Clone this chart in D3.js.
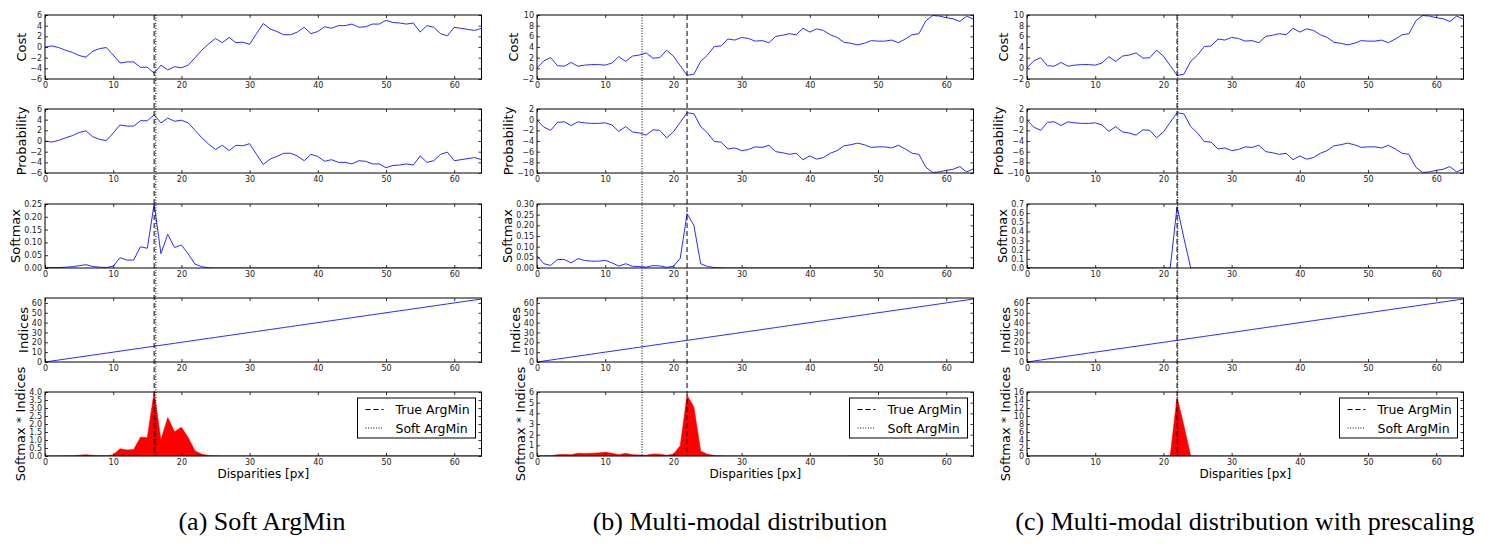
<!DOCTYPE html>
<html><head><meta charset="utf-8">
<script src="https://cdn.jsdelivr.net/npm/d3@7"></script>
<style>body{margin:0;background:#fff}</style>
</head><body><svg id="c" width="1487" height="545"></svg>
<script>
// ---------------- DATA ----------------
const disparities = [0,1,2,3,4,5,6,7,8,9,10,11,12,13,14,15,16,17,18,19,20,21,22,23,24,25,26,27,28,29,30,31,32,33,34,35,36,37,38,39,40,41,42,43,44,45,46,47,48,49,50,51,52,53,54,55,56,57,58,59,60,61,62,63,64];
const indices = [0,1,2,3,4,5,6,7,8,9,10,11,12,13,14,15,16,17,18,19,20,21,22,23,24,25,26,27,28,29,30,31,32,33,34,35,36,37,38,39,40,41,42,43,44,45,46,47,48,49,50,51,52,53,54,55,56,57,58,59,60,61,62,63,64];

const costA = [0.0,0.2,-0.1,-0.6,-1.0,-1.6,-1.9,-0.8,-0.3,-0.1,-1.5,-3.0,-2.8,-2.8,-3.8,-3.8,-4.9,-3.4,-4.3,-3.7,-3.9,-3.4,-2.0,-0.6,0.6,1.6,0.8,1.8,0.8,0.9,0.5,2.5,4.4,3.4,2.9,2.3,2.3,2.8,3.7,2.5,2.9,3.8,3.5,4.0,4.0,4.3,3.7,3.8,4.3,4.3,5.0,4.6,4.5,4.3,4.5,2.8,4.0,3.7,2.5,2.1,3.7,3.5,3.3,3.1,3.5];
const probA = [0.0,-0.2,0.1,0.6,1.0,1.6,1.9,0.8,0.3,0.1,1.5,3.0,2.8,2.8,3.8,3.8,4.9,3.4,4.3,3.7,3.9,3.4,2.0,0.6,-0.6,-1.6,-0.8,-1.8,-0.8,-0.9,-0.5,-2.5,-4.4,-3.4,-2.9,-2.3,-2.3,-2.8,-3.7,-2.5,-2.9,-3.8,-3.5,-4.0,-4.0,-4.3,-3.7,-3.8,-4.3,-4.3,-5.0,-4.6,-4.5,-4.3,-4.5,-2.8,-4.0,-3.7,-2.5,-2.1,-3.7,-3.5,-3.3,-3.1,-3.5];
const softA = [0.002,0.002,0.002,0.003,0.005,0.009,0.013,0.006,0.003,0.002,0.007,0.04,0.031,0.031,0.083,0.077,0.25,0.056,0.132,0.08,0.09,0.055,0.015,0.005,0.001,0,0,0,0,0,0,0,0,0,0,0,0,0,0,0,0,0,0,0,0,0,0,0,0,0,0,0,0,0,0,0,0,0,0,0,0,0,0,0,0];
const siA = [0,0.002,0.004,0.01,0.02,0.045,0.08,0.04,0.02,0.02,0.07,0.45,0.38,0.4,1.17,1.15,4.0,1.0,2.4,1.52,1.8,1.15,0.32,0.11,0.03,0.01,0,0,0,0,0,0,0,0,0,0,0,0,0,0,0,0,0,0,0,0,0,0,0,0,0,0,0,0,0,0,0,0,0,0,0,0,0,0,0];

const costB = [0.1,1.4,2.0,0.5,0.4,1.1,0.4,0.6,0.7,0.7,0.6,1.0,2.2,1.3,2.3,2.5,2.9,1.9,2.0,3.4,2.3,0.5,-1.3,-1.1,1.3,2.5,4.1,4.2,5.5,5.3,5.8,5.6,5.1,5.2,4.8,6.0,6.2,6.5,6.3,7.5,6.8,7.4,7.1,6.3,5.8,4.9,4.7,4.4,4.7,5.2,5.1,5.1,5.3,4.8,5.5,6.3,6.5,8.9,9.9,9.8,9.5,9.3,8.8,9.8,9.2];
const probB = [-0.1,-1.4,-2.0,-0.5,-0.4,-1.1,-0.4,-0.6,-0.7,-0.7,-0.6,-1.0,-2.2,-1.3,-2.3,-2.5,-2.9,-1.9,-2.0,-3.4,-2.3,-0.5,1.3,1.1,-1.3,-2.5,-4.1,-4.2,-5.5,-5.3,-5.8,-5.6,-5.1,-5.2,-4.8,-6.0,-6.2,-6.5,-6.3,-7.5,-6.8,-7.4,-7.1,-6.3,-5.8,-4.9,-4.7,-4.4,-4.7,-5.2,-5.1,-5.1,-5.3,-4.8,-5.5,-6.3,-6.5,-8.9,-9.9,-9.8,-9.5,-9.3,-8.8,-9.8,-9.2];
const softB = [0.057,0.02,0.012,0.04,0.04,0.024,0.044,0.035,0.032,0.032,0.036,0.024,0.009,0.02,0.008,0.007,0.004,0.011,0.01,0.003,0.008,0.045,0.255,0.2,0.02,0.007,0.002,0.001,0,0,0,0,0,0,0,0,0,0,0,0,0,0,0,0,0,0,0,0,0,0,0,0,0,0,0,0,0,0,0,0,0,0,0,0,0];
const siB = [0,0.03,0.03,0.12,0.15,0.12,0.25,0.24,0.26,0.29,0.35,0.26,0.12,0.25,0.12,0.1,0.07,0.18,0.17,0.06,0.16,0.95,5.7,4.6,0.45,0.17,0.05,0.02,0,0,0,0,0,0,0,0,0,0,0,0,0,0,0,0,0,0,0.02,0.02,0.02,0.02,0.02,0,0,0,0,0,0,0,0,0,0,0,0,0,0];

const costC = costB;
const probC = probB;
const softC = [0.005,0.001,0,0,0,0,0,0,0,0,0,0,0,0,0,0,0,0,0,0,0,0.002,0.67,0.33,0,0,0,0,0,0,0,0,0,0,0,0,0,0,0,0,0,0,0,0,0,0,0,0,0,0,0,0,0,0,0,0,0,0,0,0,0,0,0,0,0];
const siC = [0,0,0,0,0,0,0,0,0,0,0,0,0,0,0,0,0,0,0,0,0,0.04,14.7,7.6,0,0,0,0,0,0,0,0,0,0,0,0,0,0,0,0,0,0,0,0,0,0,0,0,0,0,0,0,0,0,0,0,0,0,0,0,0,0,0,0,0];

const trueArgMin = [16, 22, 22];
const softArgMin = [16.25, 15.4, 22.1];

const xTicks = [0,10,20,30,40,50,60];
const ticksCostA = [-6,-4,-2,0,2,4,6];
const ticksCostB = [-2,0,2,4,6,8,10];
const ticksProbB = [-10,-8,-6,-4,-2,0,2];
const ticksSoftA = [0,0.05,0.10,0.15,0.20,0.25];
const ticksSoftB = [0,0.05,0.10,0.15,0.20,0.25,0.30];
const ticksSoftC = [0,0.1,0.2,0.3,0.4,0.5,0.6,0.7];
const ticksIdx = [0,10,20,30,40,50,60];
const ticksSiA = [0,0.5,1.0,1.5,2.0,2.5,3.0,3.5,4.0];
const ticksSiB = [0,1,2,3,4,5,6];
const ticksSiC = [0,2,4,6,8,10,12,14,16];

const rowLabels = ["Cost","Probability","Softmax","Indices","Softmax * Indices"];
const legendLabels = ["True ArgMin","Soft ArgMin"];
const xLabel = "Disparities [px]";
const captions = ["(a) Soft ArgMin","(b) Multi-modal distribution","(c) Multi-modal distribution with prescaling"];

// ---------------- BUILD ----------------
const panels = [
  {rows:[
    {v:costA, dom:[-6,6], t:ticksCostA, f:d3.format("d")},
    {v:probA, dom:[-6,6], t:ticksCostA, f:d3.format("d")},
    {v:softA, dom:[0,0.25], t:ticksSoftA, f:d3.format(".2f")},
    {v:indices, dom:[0,65], t:ticksIdx, f:d3.format("d")},
    {v:siA, dom:[0,4.0], t:ticksSiA, f:d3.format(".1f"), area:true}
  ]},
  {rows:[
    {v:costB, dom:[-2,10], t:ticksCostB, f:d3.format("d")},
    {v:probB, dom:[-10,2], t:ticksProbB, f:d3.format("d")},
    {v:softB, dom:[0,0.30], t:ticksSoftB, f:d3.format(".2f")},
    {v:indices, dom:[0,65], t:ticksIdx, f:d3.format("d")},
    {v:siB, dom:[0,6], t:ticksSiB, f:d3.format("d"), area:true}
  ]},
  {rows:[
    {v:costC, dom:[-2,10], t:ticksCostB, f:d3.format("d")},
    {v:probC, dom:[-10,2], t:ticksProbB, f:d3.format("d")},
    {v:softC, dom:[0,0.7], t:ticksSoftC, f:d3.format(".1f")},
    {v:indices, dom:[0,65], t:ticksIdx, f:d3.format("d")},
    {v:siC, dom:[0,16], t:ticksSiC, f:d3.format("d"), area:true}
  ]}
];

const svg = d3.select("#c");
svg.append("rect").attr("width",1487).attr("height",545).attr("fill","#fff");
const defs = svg.append("defs");

const rowTops = [15,109,204,298,392], rowH = 64;
const panelLefts = [45,537,1027], panelW = 436.5;
const captionX = [262, 740, 1245];
const tickFont = "DejaVu Sans, sans-serif";

panels.forEach((p,pi)=>{
  const L = panelLefts[pi], R = L + panelW;
  const x = d3.scaleLinear().domain([0,64]).range([L,R]);
  p.rows.forEach((r,ri)=>{
    const top = rowTops[ri], bot = top + rowH;
    const y = d3.scaleLinear().domain(r.dom).range([bot, top]);
    const cid = `clip${pi}_${ri}`;
    defs.append("clipPath").attr("id",cid).append("rect").attr("x",L).attr("y",top).attr("width",R-L).attr("height",rowH);
    const g = svg.append("g");
    const pg = g.append("g").attr("clip-path",`url(#${cid})`);
    if (r.area) {
      pg.append("path").datum(r.v)
        .attr("d", d3.area().x((d,i)=>x(disparities[i])).y0(y(0)).y1(d=>y(d)))
        .attr("fill","#ff0000").attr("stroke","#ff0000").attr("stroke-width",0.6);
    } else {
      pg.append("path").datum(r.v)
        .attr("d", d3.line().x((d,i)=>x(disparities[i])).y(d=>y(d)))
        .attr("fill","none").attr("stroke","#2a2aff").attr("stroke-width",1);
    }
    const style = a => {
      a.select(".domain").remove();
      a.selectAll("line").attr("stroke","#000").attr("stroke-width",0.8);
      a.selectAll("text").attr("font-family",tickFont).attr("font-size",8).attr("fill","#222");
    };
    g.append("g").attr("transform",`translate(0,${bot})`)
      .call(d3.axisBottom(x).tickValues(xTicks).tickSize(-3).tickPadding(3).tickFormat(d3.format("d"))).call(style);
    g.append("g").attr("transform",`translate(0,${top})`)
      .call(d3.axisTop(x).tickValues(xTicks).tickSize(-3).tickFormat("")).call(style);
    const la = g.append("g").attr("transform",`translate(${L},0)`)
      .call(d3.axisLeft(y).tickValues(r.t).tickSize(-3).tickPadding(3).tickFormat(r.f)).call(style);
    g.append("g").attr("transform",`translate(${R},0)`)
      .call(d3.axisRight(y).tickValues(r.t).tickSize(-3).tickFormat("")).call(style);
    g.append("rect").attr("x",L).attr("y",top).attr("width",R-L).attr("height",rowH)
      .attr("fill","none").attr("stroke","#000").attr("stroke-width",1);
    const bb = la.node().getBBox();
    svg.append("text").attr("transform",`translate(${L + bb.x - 4},${top+rowH/2}) rotate(-90)`)
      .attr("text-anchor","middle").attr("font-family",tickFont).attr("font-size",13)
      .attr("fill","#000").text(rowLabels[ri]);
  });
  // vertical marker lines
  svg.append("line").attr("x1",x(trueArgMin[pi])).attr("x2",x(trueArgMin[pi]))
    .attr("y1",rowTops[0]).attr("y2",rowTops[4]+rowH)
    .attr("stroke","#000").attr("stroke-width",1).attr("stroke-dasharray","5,3");
  svg.append("line").attr("x1",x(softArgMin[pi])).attr("x2",x(softArgMin[pi]))
    .attr("y1",rowTops[0]).attr("y2",rowTops[4]+rowH)
    .attr("stroke","#000").attr("stroke-width",1).attr("stroke-dasharray","1,1.6");
  // x label
  svg.append("text").attr("x",(L+R)/2).attr("y",478).attr("text-anchor","middle")
    .attr("font-family",tickFont).attr("font-size",12).attr("fill","#000").text(xLabel);
  // legend
  const lw = 118, lh = 40, lx = R - 6 - lw, ly = 398;
  const lg = svg.append("g");
  lg.append("rect").attr("x",lx).attr("y",ly).attr("width",lw).attr("height",lh)
    .attr("fill","#fff").attr("stroke","#000").attr("stroke-width",1);
  const dashes = ["5,3","1,1.6"];
  legendLabels.forEach((t,k)=>{
    const yy = ly + 11.5 + k*18.5;
    lg.append("line").attr("x1",lx+8).attr("x2",lx+26).attr("y1",yy).attr("y2",yy)
      .attr("stroke","#000").attr("stroke-width",1).attr("stroke-dasharray",dashes[k]);
    lg.append("text").attr("x",lx+38).attr("y",yy+4.5).attr("font-family",tickFont)
      .attr("font-size",12.5).attr("fill","#000").text(t);
  });
  // caption
  svg.append("text").attr("x",captionX[pi]).attr("y",530).attr("text-anchor","middle")
    .attr("font-family","Liberation Serif, serif").attr("font-size",26).attr("fill","#000").text(captions[pi]);
});
</script>
</body></html>
